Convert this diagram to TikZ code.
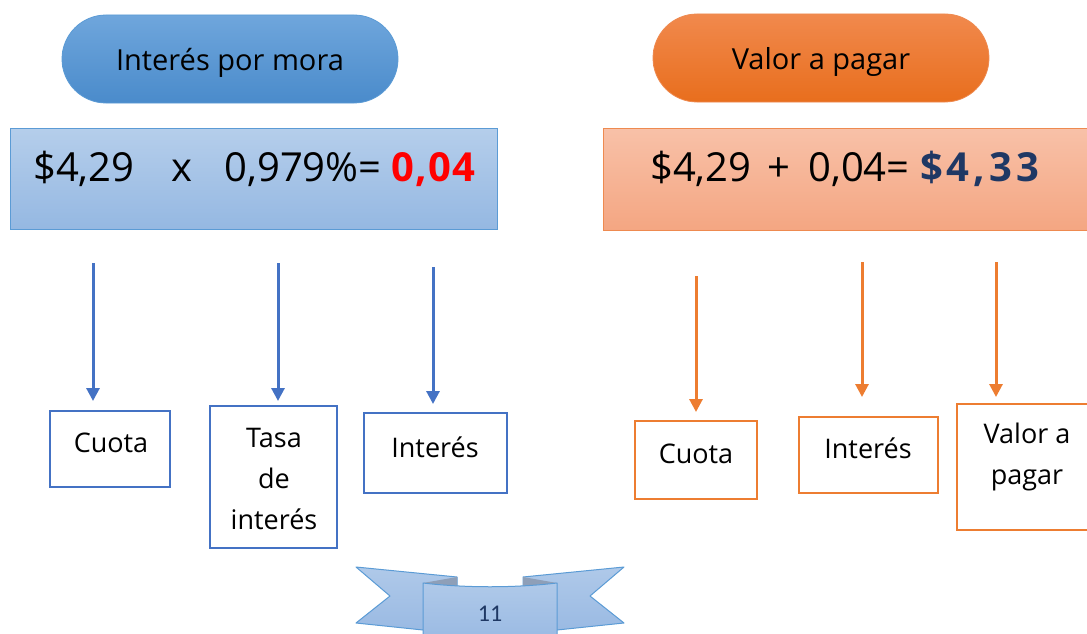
\documentclass[tikz,border=0pt]{standalone}
\usepackage{fontspec}
\setmainfont{Open Sans}
\newfontfamily\numfont{Carlito}
\usetikzlibrary{arrows.meta}
\definecolor{bluetop}{HTML}{6FA6DC}
\definecolor{bluebot}{HTML}{4A8BCB}
\definecolor{blueedge}{HTML}{5B9BD5}
\definecolor{ltbluetop}{HTML}{B5CEEB}
\definecolor{ltbluebot}{HTML}{95B8E2}
\definecolor{orgtop}{HTML}{F1894D}
\definecolor{orgbot}{HTML}{E86E1D}
\definecolor{ltorgtop}{HTML}{F8C1A8}
\definecolor{ltorgbot}{HTML}{F4A682}
\definecolor{orgedge}{HTML}{EE8A50}
\definecolor{arrblue}{HTML}{4472C4}
\definecolor{arrorg}{HTML}{ED7D31}
\definecolor{navy}{HTML}{1F3864}
\definecolor{eqred}{HTML}{FF0000}
\definecolor{foldgray}{HTML}{8E9FB8}
\definecolor{bantop}{HTML}{AFC9E9}
\definecolor{banbot}{HTML}{9ABAE3}
\tikzset{
  pill/.style={draw=#1, line width=0.8pt, rounded corners=44pt, minimum width=336pt, minimum height=88pt, inner sep=0pt, text depth=0pt, font=\fontsize{29}{34}\selectfont},
  eqbox/.style={draw=#1, line width=1pt, inner sep=0pt},
  eqtext/.style={anchor=west, inner sep=0pt, font=\fontsize{40}{48}\selectfont},
  bluebox/.style={draw=arrblue, line width=2.5pt, fill=white, inner sep=0pt},
  orgbox/.style={draw=arrorg, line width=2.5pt, fill=white, inner sep=0pt},
  lbl/.style={inner sep=0pt, align=center, font=\fontsize{27}{41}\selectfont},
  barrow/.style={draw=arrblue, line width=3pt, -{Triangle[width=13pt,length=13pt]}},
  oarrow/.style={draw=arrorg, line width=3pt, -{Triangle[width=13pt,length=13pt]}},
  banner/.style={draw=blueedge, line width=1pt, top color=bantop, bottom color=banbot, line join=round},
}
\begin{document}
\begin{tikzpicture}[x=1pt,y=-1pt]
\useasboundingbox (0,0) rectangle (1087,634);

% headers
\node[pill=blueedge, top color=bluetop, bottom color=bluebot] (h1) at (230,59) {Interés por mora};
\node[pill=orgedge, top color=orgtop, bottom color=orgbot] (h2) at (821,58) {Valor a pagar};

% equation boxes
\draw[eqbox=blueedge, top color=ltbluetop, bottom color=ltbluebot] (10,128) rectangle (497,229);
\draw[eqbox=orgedge, top color=ltorgtop, bottom color=ltorgbot] (603,128) rectangle (1095,230);
\node[eqtext] (eq1) at (33,169) {\$4,29\hspace{37pt}x\hspace{32pt}0,979\%= \textcolor{eqred}{\textbf{\addfontfeature{LetterSpace=3}0,04}}};
\node[eqtext] (eq2) at (650,169) {\$4,29\hspace{16pt}+\hspace{18pt}0,04= \textcolor{navy}{\textbf{\addfontfeature{LetterSpace=10}\$4,33}}};

% blue boxes
\draw[bluebox] (50,411) rectangle (170,487);
\node[lbl] (b1) at (111,443) {Cuota};
\draw[bluebox] (210,406) rectangle (337,548);
\node[lbl] (b2) at (274,479) {Tasa\\de\\interés};
\draw[bluebox] (364,413) rectangle (507,493);
\node[lbl] (b3) at (435,447) {Interés};

% orange boxes
\draw[orgbox] (635,421) rectangle (757,499);
\node[lbl] (o1) at (696,454) {Cuota};
\draw[orgbox] (799,417) rectangle (938,493);
\node[lbl] (o2) at (868,448) {Interés};
\draw[orgbox] (957,404) rectangle (1097,530);
\node[lbl] (o3) at (1027,457) {Valor a\\pagar};

% arrows
\coordinate (a1s) at (93,263);  \coordinate (a1e) at (93,401);
\coordinate (a2s) at (278,263); \coordinate (a2e) at (278,401);
\coordinate (a3s) at (433,267); \coordinate (a3e) at (433,404);
\coordinate (a4s) at (696,276); \coordinate (a4e) at (696,412);
\coordinate (a5s) at (862,262); \coordinate (a5e) at (862,397);
\coordinate (a6s) at (996,262); \coordinate (a6e) at (996,397);
\draw[barrow] (a1s) -- (a1e);
\draw[barrow] (a2s) -- (a2e);
\draw[barrow] (a3s) -- (a3e);
\draw[oarrow] (a4s) -- (a4e);
\draw[oarrow] (a5s) -- (a5e);
\draw[oarrow] (a6s) -- (a6e);

% page banner
\path[banner] (356,567) -- (457,577) -- (457,605) -- (423,630) -- (356,623) -- (390,596) -- cycle;
\path[banner] (624,567) -- (523,577) -- (523,605) -- (557,630) -- (624,623) -- (590,596) -- cycle;
\fill[foldgray] (423,583) -- (457,577) -- (457,586) -- cycle;
\fill[foldgray] (557,583) -- (523,577) -- (523,586) -- cycle;
\path[banner] (423,640) -- (423,583) .. controls (465,588) and (515,588) .. (557,583) -- (557,640) -- cycle;
\node[inner sep=0pt, text=navy, font=\numfont\fontsize{24}{28}\selectfont] (pg) at (490,614) {11};
\end{tikzpicture}
\end{document}
